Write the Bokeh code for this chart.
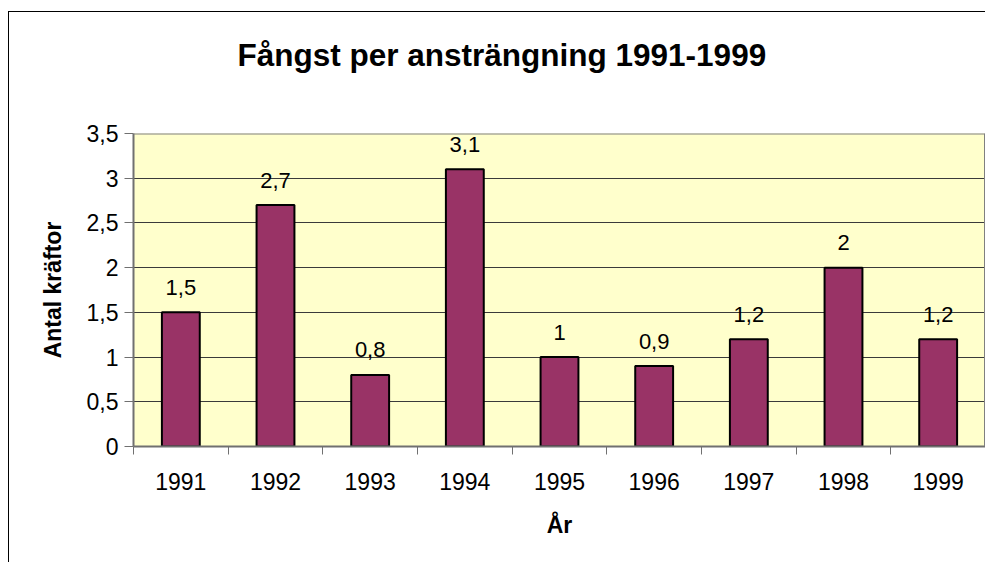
from bokeh.plotting import figure
from bokeh.models import (ColumnDataSource, Range1d, FixedTicker, CustomJSTickFormatter,
                          Title, Span)
from bokeh.layouts import column
from bokeh.core.properties import value
from bokeh.embed import file_html
from bokeh.resources import INLINE

years = ["1991", "1992", "1993", "1994", "1995", "1996", "1997", "1998", "1999"]
catch = [1.5, 2.7, 0.8, 3.1, 1.0, 0.9, 1.2, 2.0, 1.2]
y_ticks = [0, 0.5, 1, 1.5, 2, 2.5, 3, 3.5]
title_text = "Fångst per ansträngning 1991-1999"

FONT = "Liberation Sans"

def fmt(v):
    s = ("%g" % v)
    return s.replace(".", ",")

pos = [i + 0.5 for i in range(len(years))]
src = ColumnDataSource(dict(x=pos, top=catch, year=years,
                            label=[fmt(v) for v in catch]))

p = figure(width=976, height=550, output_backend="svg", toolbar_location=None,
           title=None,
           x_range=Range1d(0, len(years)), y_range=Range1d(0, 3.5),
           min_border_left=124, min_border_right=0, min_border_top=121,
           min_border_bottom=116, tools="")

# spacer between plot area and the chart title
p.add_layout(Title(text=" ", text_font_size="1px", standoff=58), "above")
p.add_layout(Title(text=title_text, text_font=FONT, text_font_size="31.5px",
                   text_font_style="bold", text_color="#000000",
                   align="left", offset=104, standoff=0), "above")

p.background_fill_color = "#FFFFCC"
p.border_fill_color = "#FFFFFF"
p.outline_line_color = None
p.add_layout(Span(location=3.5, dimension="width", line_color="#808080", line_width=2))
p.add_layout(Span(location=len(years), dimension="height", line_color="#808080", line_width=3))

p.vbar(x="x", top="top", width=0.4, bottom=0, source=src,
       fill_color="#993366", line_color="#000000", line_width=2)

p.text(x="x", y="top", text="label", source=src, text_align="center",
       text_baseline="middle", y_offset=-25, text_font=value(FONT),
       text_font_size="22px", text_color="#000000")

# x axis
xa = p.xaxis[0]
xa.ticker = FixedTicker(ticks=pos, minor_ticks=list(range(len(years) + 1)))
xa.formatter = CustomJSTickFormatter(args=dict(years=years),
                                     code="return years[Math.floor(tick)];")
xa.major_tick_line_color = None
xa.minor_tick_out = 8
xa.minor_tick_in = 0
xa.minor_tick_line_color = "#707070"
xa.axis_line_color = "#707070"
xa.axis_line_width = 2
xa.major_label_text_font = FONT
xa.major_label_text_font_size = "23px"
xa.major_label_text_color = "#000000"
xa.major_label_standoff = 18
xa.axis_label = "År"
xa.axis_label_text_font = FONT
xa.axis_label_text_font_style = "bold"
xa.axis_label_text_font_size = "23px"
xa.axis_label_text_color = "#000000"
xa.axis_label_standoff = 19

# y axis
ya = p.yaxis[0]
ya.ticker = FixedTicker(ticks=y_ticks)
ya.formatter = CustomJSTickFormatter(code="return tick.toString().replace('.', ',');")
ya.major_tick_out = 9
ya.major_tick_in = 0
ya.minor_tick_line_color = None
ya.major_tick_line_color = "#707070"
ya.axis_line_color = "#707070"
ya.axis_line_width = 2
ya.major_label_text_font = FONT
ya.major_label_text_font_size = "23px"
ya.major_label_text_color = "#000000"
ya.major_label_standoff = 6
ya.axis_label = "Antal kräftor"
ya.axis_label_text_font = FONT
ya.axis_label_text_font_style = "bold"
ya.axis_label_text_font_size = "23px"
ya.axis_label_text_color = "#000000"
ya.axis_label_standoff = 18

p.xgrid.grid_line_color = None
p.ygrid.ticker = FixedTicker(ticks=y_ticks[:-1])
p.ygrid.grid_line_color = "#3a3a3a"
p.ygrid.grid_line_width = 1

root = column(p, styles={"border-left": "1px solid #000000",
                         "border-top": "1px solid #000000",
                         "margin-top": "11px", "margin-left": "8px"})

open("out.html", "w").write(file_html(root, INLINE))
